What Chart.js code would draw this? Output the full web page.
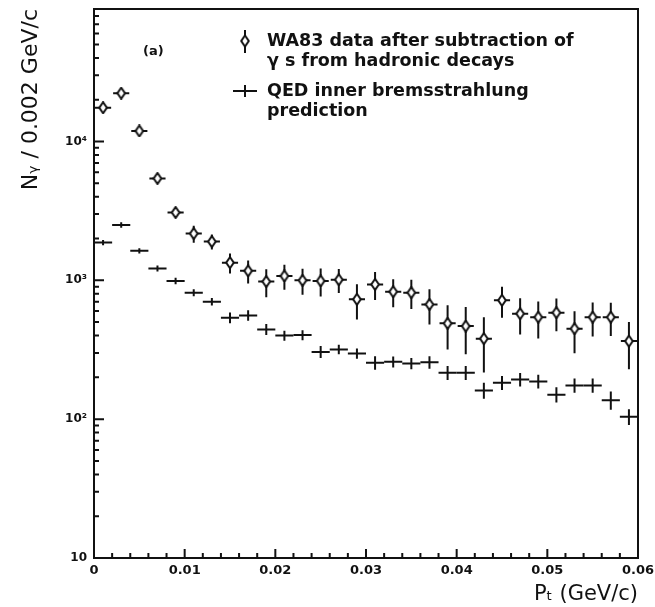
<!DOCTYPE html>
<html>
<head>
<meta charset="utf-8">
<script src="https://cdn.jsdelivr.net/npm/chart.js@4.4.0/dist/chart.umd.min.js"></script>
<style>
  html, body { margin: 0; padding: 0; background: #fff; }
</style>
</head>
<body>
<canvas id="myChart" width="655" height="607"></canvas>
<script>
// bin centres (GeV/c), bin width 0.002
const binCenters = [0.001, 0.003, 0.005, 0.007, 0.009, 0.011, 0.013, 0.015, 0.017, 0.019,
  0.021, 0.023, 0.025, 0.027, 0.029, 0.031, 0.033, 0.035, 0.037, 0.039,
  0.041, 0.043, 0.045, 0.047, 0.049, 0.051, 0.053, 0.055, 0.057, 0.059];
const binHalfWidth = 0.001;

// WA83 data after subtraction of gammas from hadronic decays
const wa83Values = [17500, 22300, 11900, 5420, 3080, 2170, 1900, 1340, 1170, 980,
  1075, 1000, 990, 1010, 730, 935, 828, 815, 671, 490,
  468, 380, 718, 575, 543, 585, 448, 543, 543, 365];
const wa83Errors = [700, 900, 500, 250, 150, 305, 236, 221, 221, 224,
  220, 213, 226, 199, 207, 213, 189, 193, 190, 172,
  174, 163, 181, 167, 162, 156, 150, 149, 145, 136];

// QED inner bremsstrahlung prediction
const qedValues = [1870, 2505, 1630, 1215, 988, 815, 702, 538, 559, 443,
  400, 403, 305, 318, 297, 255, 259, 252, 257, 216,
  216, 161, 183, 193, 187, 150, 175, 175, 137, 104];
const qedErrors = [20, 30, 20, 20, 20, 20, 20, 30, 30, 25,
  20, 20, 20, 15, 15, 20, 15, 15, 18, 18,
  18, 16, 15, 15, 15, 14, 15, 15, 16, 10];

const xTickValues = [0, 0.01, 0.02, 0.03, 0.04, 0.05, 0.06];
const yTickValues = [10, 100, 1000, 10000];
const yTickLabels = ["10", "10\u00B2", "10\u00B3", "10\u2074"];

const ink = "#111";
const textFont = "'DejaVu Sans', sans-serif";

// open diamond marker
const marker = document.createElement("canvas");
marker.width = 10;
marker.height = 13;
(function () {
  const c = marker.getContext("2d");
  c.beginPath();
  c.moveTo(5, 1);
  c.lineTo(8.8, 6.5);
  c.lineTo(5, 12);
  c.lineTo(1.2, 6.5);
  c.closePath();
  c.fillStyle = "#fff";
  c.fill();
  c.lineWidth = 2;
  c.strokeStyle = ink;
  c.stroke();
})();

const errorBars = {
  id: "errorBars",
  beforeDatasetsDraw(chart) {
    const ctx = chart.ctx;
    const xs = chart.scales.x;
    const ys = chart.scales.y;
    ctx.save();
    ctx.strokeStyle = ink;
    ctx.lineWidth = 2;
    for (let i = 0; i < binCenters.length; i++) {
      const xl = xs.getPixelForValue(binCenters[i] - binHalfWidth);
      const xr = xs.getPixelForValue(binCenters[i] + binHalfWidth);
      const xc = xs.getPixelForValue(binCenters[i]);
      // WA83
      let y = ys.getPixelForValue(wa83Values[i]);
      ctx.beginPath();
      ctx.moveTo(xl + 1, y);
      ctx.lineTo(xr - 1, y);
      ctx.moveTo(xc, ys.getPixelForValue(wa83Values[i] + wa83Errors[i]));
      ctx.lineTo(xc, ys.getPixelForValue(wa83Values[i] - wa83Errors[i]));
      ctx.stroke();
      // QED
      y = ys.getPixelForValue(qedValues[i]);
      ctx.beginPath();
      ctx.moveTo(xl, y);
      ctx.lineTo(xr, y);
      ctx.moveTo(xc, ys.getPixelForValue(qedValues[i] + qedErrors[i]) - 2);
      ctx.lineTo(xc, ys.getPixelForValue(qedValues[i] - qedErrors[i]) + 2);
      ctx.stroke();
    }
    ctx.restore();
  },
  afterDraw(chart) {
    const ctx = chart.ctx;
    const a = chart.chartArea;
    const xs = chart.scales.x;
    const ys = chart.scales.y;
    ctx.save();
    ctx.strokeStyle = ink;
    ctx.lineWidth = 2;
    ctx.strokeRect(a.left, a.top, a.right - a.left, a.bottom - a.top);

    // inward ticks
    ctx.beginPath();
    for (let k = 0; k <= 30; k++) {
      const x = xs.getPixelForValue(k * 0.002);
      const len = k % 5 === 0 ? 9 : 5;
      ctx.moveTo(x, a.bottom);
      ctx.lineTo(x, a.bottom - len);
    }
    for (let e = 1; e <= 4; e++) {
      for (let m = 1; m <= 9; m++) {
        const v = m * Math.pow(10, e);
        if (v > ys.max) continue;
        const y = ys.getPixelForValue(v);
        ctx.moveTo(a.left, y);
        ctx.lineTo(a.left + (m === 1 ? 10 : 5), y);
      }
    }
    ctx.stroke();

    // legend
    ctx.beginPath();
    ctx.moveTo(245, 30);
    ctx.lineTo(245, 53);
    ctx.moveTo(233, 91);
    ctx.lineTo(257, 91);
    ctx.moveTo(245, 85);
    ctx.lineTo(245, 97);
    ctx.stroke();
    ctx.drawImage(marker, 245 - marker.width / 2, 41 - marker.height / 2);

    ctx.fillStyle = ink;
    ctx.textBaseline = "middle";
    ctx.font = "bold 17.5px " + textFont;
    ctx.fillText("WA83 data after subtraction of", 267, 41);
    ctx.fillText("\u03B3 s from hadronic decays", 267, 61);
    ctx.fillText("QED inner bremsstrahlung", 267, 91);
    ctx.fillText("prediction", 267, 111);
    ctx.font = "bold 13px " + textFont;
    ctx.fillText("(a)", 143, 52);
    ctx.restore();
  }
};

const data = {
  datasets: [
    {
      label: "WA83 data after subtraction of \u03B3 s from hadronic decays",
      data: binCenters.map((x, i) => ({ x: x, y: wa83Values[i] })),
      pointStyle: marker,
      pointRadius: 5,
      showLine: false,
    },
    {
      label: "QED inner bremsstrahlung prediction",
      data: binCenters.map((x, i) => ({ x: x, y: qedValues[i] })),
      pointRadius: 0,
      showLine: false,
    },
  ],
};

const config = {
  type: "scatter",
  data: data,
  options: {
    responsive: false,
    animation: false,
    devicePixelRatio: 1,
    layout: { padding: { top: 9, right: 17, left: 0, bottom: 0 } },
    plugins: {
      legend: { display: false },
      tooltip: { enabled: false },
    },
    scales: {
      x: {
        type: "linear",
        min: 0,
        max: 0.06,
        afterFit: (s) => {
          s.height = 49;
          s.paddingLeft = 0;
          s.paddingRight = 0;
        },
        afterBuildTicks: (s) => { s.ticks = xTickValues.map((v) => ({ value: v })); },
        grid: { display: false, drawTicks: false },
        border: { display: false },
        ticks: {
          autoSkip: false,
          maxRotation: 0,
          padding: 5,
          color: ink,
          font: { family: textFont, size: 13, weight: "bold" },
          callback: (v) => (v === 0 ? "0" : v.toFixed(2)),
        },
        title: {
          display: true,
          text: "P\u209C (GeV/c)",
          align: "end",
          color: ink,
          padding: { top: 0, bottom: 0 },
          font: { family: textFont, size: 21 },
        },
      },
      y: {
        type: "logarithmic",
        min: 10,
        max: 90000,
        afterFit: (s) => {
          s.width = 94;
          s.paddingTop = 0;
          s.paddingBottom = 0;
        },
        afterBuildTicks: (s) => { s.ticks = yTickValues.map((v) => ({ value: v })); },
        grid: { display: false, drawTicks: false },
        border: { display: false },
        ticks: {
          autoSkip: false,
          padding: 7,
          color: ink,
          font: { family: textFont, size: 12, weight: "bold" },
          callback: (v) => {
            const i = yTickValues.indexOf(v);
            return i >= 0 ? yTickLabels[i] : "";
          },
        },
        title: {
          display: true,
          text: "N\u1D67 / 0.002 GeV/c",
          align: "end",
          color: ink,
          padding: { top: 18, bottom: 0 },
          font: { family: textFont, size: 22 },
        },
      },
    },
  },
  plugins: [errorBars],
};

var myChart = new Chart(document.getElementById("myChart"), config);
</script>
</body>
</html>
